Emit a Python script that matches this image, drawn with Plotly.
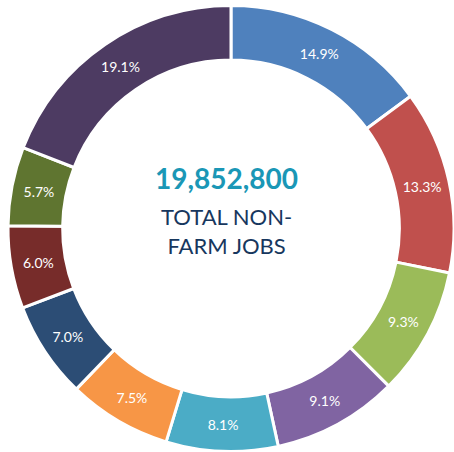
import plotly.graph_objects as go

values = [14.9, 13.3, 9.3, 9.1, 8.1, 7.5, 7.0, 6.0, 5.7, 19.1]
labels = ["A", "B", "C", "D", "E", "F", "G", "H", "I", "J"]
colors = ["#4F81BD", "#C0504D", "#9BBB59", "#8064A2", "#4BACC6",
          "#F79646", "#2C4D75", "#772C2A", "#5F7530", "#4D3B62"]
total_text = "19,852,800"
sub_text = "TOTAL NON-<br>FARM JOBS"

fig = go.Figure(go.Pie(
    labels=labels, values=values, sort=False, direction="clockwise",
    hole=0.755, marker=dict(colors=colors, line=dict(color="white", width=3)),
    texttemplate="%{value:.1f}%", textposition="inside",
    insidetextorientation="horizontal",
    textfont=dict(color="white", size=14, family="Lato"),
    domain=dict(x=[0.0176, 1.0], y=[0.0, 0.989]),
    showlegend=False, hoverinfo="label+value",
))
fig.add_annotation(x=0.498, y=0.607, xref="paper", yref="paper", showarrow=False,
                   text="<b>" + total_text + "</b>",
                   font=dict(size=28, color="#1A97B6", family="Lato"))
fig.add_annotation(x=0.498, y=0.489, xref="paper", yref="paper", showarrow=False,
                   text=sub_text,
                   font=dict(size=22, color="#17375E", family="Lato"))
fig.update_layout(width=454, height=452, margin=dict(l=0, r=0, t=0, b=0),
                  paper_bgcolor="white", plot_bgcolor="white")
fig.write_html("out.html", config={"displayModeBar": False},
               post_script="document.body.style.margin='0px';")
